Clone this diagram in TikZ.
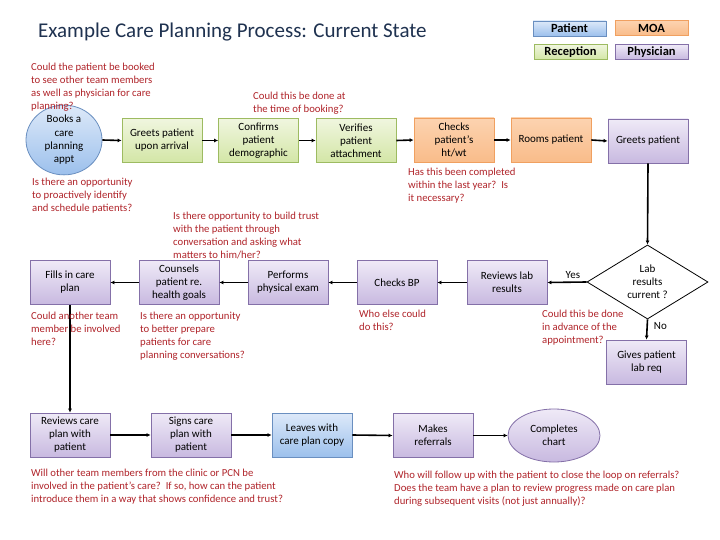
\documentclass[tikz,border=0pt]{standalone}
\usepackage{fontspec}
\setmainfont{Carlito}
\usetikzlibrary{shapes.geometric,arrows.meta}
\definecolor{qred}{HTML}{B0242A}
\definecolor{titleblue}{HTML}{1F3250}
\definecolor{physB}{HTML}{8470A8}
\definecolor{physT}{HTML}{EFEAF7}
\definecolor{physBot}{HTML}{C8B9E0}
\definecolor{recB}{HTML}{9DBB61}
\definecolor{recT}{HTML}{F0F6DF}
\definecolor{recBot}{HTML}{D3E6A6}
\definecolor{moaB}{HTML}{F0A060}
\definecolor{moaT}{HTML}{FCD3B0}
\definecolor{moaBot}{HTML}{F9BC8A}
\definecolor{patB}{HTML}{6A8FC0}
\definecolor{patT}{HTML}{DDE9F9}
\definecolor{patBot}{HTML}{9CC0EC}
\begin{document}
\begin{tikzpicture}[x=1pt,y=-1pt,
  box/.style={draw, line width=0.8pt, minimum width=80pt, minimum height=44pt, align=center, inner sep=1pt, font=\fontsize{11}{13}\selectfont},
  phys/.style={box, draw=physB, top color=physT, bottom color=physBot},
  rec/.style={box, draw=recB, top color=recT, bottom color=recBot},
  moa/.style={box, draw=moaB, top color=moaT, bottom color=moaBot},
  pat/.style={box, draw=patB, top color=patT, bottom color=patBot},
  legbox/.style={draw, line width=0.8pt, minimum width=73pt, minimum height=15pt, inner sep=0pt, font=\fontsize{12.5}{14}\selectfont\bfseries},
  conn/.style={line width=1.6pt, -{Latex[length=4pt,width=4pt]}},
  note/.style={text=qred, anchor=north west, align=left, inner sep=0pt, font=\fontsize{10.7}{13}\selectfont},
  lbl/.style={inner sep=0pt, font=\fontsize{11}{12}\selectfont}
]
\useasboundingbox (0,0) rectangle (720,540);
\fill[white] (0,0) rectangle (720,540);

% title
\node[anchor=west, inner sep=0pt, text=titleblue, font=\fontsize{21}{24}\selectfont] (title) at (38,32) {Example Care Planning Process: Current State};

% legend
\node[legbox, draw=patB, top color=patT, bottom color=patBot] (legpat) at (569.5,28.5) {Patient};
\node[legbox, draw=moaB, top color=moaT, bottom color=moaBot] (legmoa) at (651.5,28) {MOA};
\node[legbox, draw=recB, top color=recT, bottom color=recBot] (legrec) at (570.5,52) {Reception};
\node[legbox, draw=physB, top color=physT, bottom color=physBot] (legphys) at (651.5,52) {Physician};

% row 1
\node[ellipse, draw=patB, line width=0.8pt, top color=patT, bottom color=patBot, minimum width=76pt, minimum height=60pt, inner sep=0pt, align=center, font=\fontsize{11}{13.3}\selectfont] (book) at (64,140) {Books a\\care\\planning\\appt};
\node[rec] (greet) at (162,140.5) {Greets patient\\upon arrival};
\node[rec] (confirm) at (258.5,140.5) {Confirms\\patient\\demographic};
\node[rec] (verify) at (356,140.5) {Verifies\\patient\\attachment};
\node[moa] (checks) at (454,140) {Checks\\patient's\\ht/wt};
\node[moa] (rooms) at (551,140) {Rooms patient};
\node[phys] (gp) at (648,141) {Greets patient};

\draw[conn] (book.east) -- (greet.west);
\draw[conn] (greet.east) -- (confirm.west);
\draw[conn] (confirm.east) -- (verify.west);
\draw[conn] (verify.east) -- (checks.west);
\draw[conn] (checks.east) -- (rooms.west);
\draw[conn] (rooms.east) -- (gp.west);

% decision
\node[diamond, draw, line width=0.8pt, fill=white, minimum width=121pt, minimum height=70pt, inner sep=0pt, align=center, font=\fontsize{11}{13}\selectfont] (lab) at (647.5,282) {Lab\\results\\current ?};
\draw[conn] (gp.south) -- (lab.north);

% row 2
\node[phys] (rlab) at (507,282.5) {Reviews lab\\results};
\node[phys] (bp) at (397,282.5) {Checks BP};
\node[phys] (exam) at (288,282.5) {Performs\\physical exam};
\node[phys] (couns) at (179,282.5) {Counsels\\patient re.\\health goals};
\node[phys] (fill) at (70,282.5) {Fills in care\\plan};
\node[phys] (glr) at (646.5,362) {Gives patient\\lab req};

\draw[conn] (lab.west) -- (rlab.east) node[lbl, pos=0.35, above=3pt] (yes) {Yes};
\draw[conn] (lab.south) -- (glr.north) node[lbl, pos=0.35, right=6pt] (no) {No};
\draw[conn] (rlab.west) -- (bp.east);
\draw[conn] (bp.west) -- (exam.east);
\draw[conn] (exam.west) -- (couns.east);
\draw[conn] (couns.west) -- (fill.east);

% row 3
\node[phys] (rcp) at (70,435) {Reviews care\\plan with\\patient};
\node[phys] (signs) at (191,435) {Signs care\\plan with\\patient};
\node[pat] (leaves) at (312,435) {Leaves with\\care plan copy};
\node[phys] (refer) at (433,435.5) {Makes\\referrals};
\node[ellipse, draw=physB, line width=0.8pt, top color=physT, bottom color=physBot, minimum width=92pt, minimum height=53pt, inner sep=0pt, align=center, font=\fontsize{11}{13}\selectfont] (chart) at (554,435.5) {Completes\\chart};

\draw[conn] (fill.south) -- (rcp.north);
\draw[conn] (rcp.east) -- (signs.west);
\draw[conn] (signs.east) -- (leaves.west);
\draw[conn] (leaves.east) -- (refer.west);
\draw[conn] (refer.east) -- (chart.west);

% notes
\node[note] (n1) at (31,62.5) {Could the patient be booked\\to see other team members\\as well as physician for care\\planning?};
\node[note] (n2) at (253,92) {Could this be done at\\the time of booking?};
\node[note] (n3) at (408,168) {Has this been completed\\within the last year?\ \ Is\\it necessary?};
\node[note] (n4) at (32,178) {Is there an opportunity\\to proactively identify\\and schedule patients?};
\node[note] (n5) at (173,212) {Is there opportunity to build trust\\with the patient through\\conversation and asking what\\matters to him/her?};
\node[note] (n6) at (31,312) {Could another team\\member be involved\\here?};
\node[note] (n7) at (140,312) {Is there an opportunity\\to better prepare\\patients for care\\planning conversations?};
\node[note] (n8) at (359,310) {Who else could\\do this?};
\node[note] (n9) at (542,310) {Could this be done\\in advance of the\\appointment?};
\node[note] (n10) at (31,468.5) {Will other team members from the clinic or PCN be\\involved in the patient's care?\ \ If so, how can the patient\\introduce them in a way that shows confidence and trust?};
\node[note] (n11) at (394,470.5) {Who will follow up with the patient to close the loop on referrals?\\Does the team have a plan to review progress made on care plan\\during subsequent visits (not just annually)?};
\end{tikzpicture}
\end{document}
